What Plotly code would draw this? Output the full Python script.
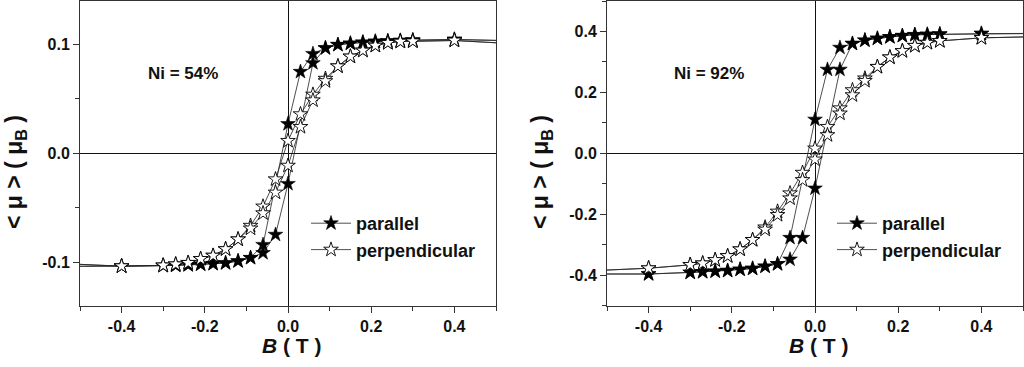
import plotly.graph_objects as go

# ---------------- data ----------------
# Left panel: Ni = 54 %
B_desc_par_54 = [0.6, 0.4, 0.3, 0.27, 0.24, 0.21, 0.18, 0.15, 0.12, 0.09, 0.06, 0.03, 0.0,
                 -0.06, -0.09, -0.12, -0.15, -0.18, -0.21, -0.24, -0.27, -0.3, -0.4, -0.6]
mu_desc_par_54 = [0.1030, 0.1046, 0.1040, 0.1036, 0.1032, 0.1028, 0.1020, 0.1010, 0.0998, 0.0968, 0.0915, 0.0750, 0.0270,
                  -0.0840, -0.0960, -0.0990, -0.1008, -0.1015, -0.1020, -0.1026, -0.1030, -0.1033, -0.1037, -0.1040]
B_asc_par_54 = [-0.6, -0.4, -0.3, -0.27, -0.24, -0.21, -0.18, -0.15, -0.12, -0.09, -0.06, -0.03, 0.0,
                0.06, 0.09, 0.12, 0.15, 0.18, 0.21, 0.24, 0.27, 0.3, 0.4, 0.6]
mu_asc_par_54 = [-0.1040, -0.1037, -0.1033, -0.1030, -0.1026, -0.1020, -0.1015, -0.1008, -0.0990, -0.0960, -0.0915, -0.0747, -0.0280,
                 0.0830, 0.0968, 0.0998, 0.1010, 0.1020, 0.1028, 0.1032, 0.1036, 0.1040, 0.1046, 0.1030]

B_desc_perp_54 = [0.6, 0.4, 0.3, 0.27, 0.24, 0.21, 0.18, 0.15, 0.12, 0.09, 0.06, 0.03, 0.0,
                  -0.03, -0.06, -0.09, -0.12, -0.15, -0.18, -0.21, -0.24, -0.27, -0.3, -0.4, -0.6]
mu_desc_perp_54 = [0.0995, 0.1037, 0.1030, 0.1027, 0.1015, 0.0990, 0.0945, 0.0890, 0.0800, 0.0686, 0.0540, 0.0360, 0.0115,
                   -0.0238, -0.0488, -0.0665, -0.0790, -0.0880, -0.0940, -0.0970, -0.1006, -0.1020, -0.1030, -0.1037, -0.1003]
B_asc_perp_54 = [-0.6, -0.4, -0.3, -0.27, -0.24, -0.21, -0.18, -0.15, -0.12, -0.09, -0.06, -0.03, 0.0,
                 0.03, 0.06, 0.09, 0.12, 0.15, 0.18, 0.21, 0.24, 0.27, 0.3, 0.4, 0.6]
mu_asc_perp_54 = [-0.1003, -0.1037, -0.1030, -0.1020, -0.1006, -0.0970, -0.0940, -0.0880, -0.0790, -0.0690, -0.0550, -0.0360, -0.0113,
                  0.0243, 0.0488, 0.0664, 0.0800, 0.0890, 0.0945, 0.0990, 0.1015, 0.1027, 0.1030, 0.1037, 0.0995]

# Right panel: Ni = 92 %
B_desc_par_92 = [0.6, 0.4, 0.3, 0.27, 0.24, 0.21, 0.18, 0.15, 0.12, 0.09, 0.06, 0.03, 0.0,
                 -0.06, -0.09, -0.12, -0.15, -0.18, -0.21, -0.24, -0.27, -0.3, -0.4, -0.6]
mu_desc_par_92 = [0.394, 0.393, 0.391, 0.390, 0.389, 0.386, 0.382, 0.377, 0.371, 0.360, 0.347, 0.275, 0.111,
                  -0.277, -0.363, -0.371, -0.378, -0.381, -0.385, -0.387, -0.389, -0.391, -0.396, -0.396]
B_asc_par_92 = [-0.6, -0.4, -0.3, -0.27, -0.24, -0.21, -0.18, -0.15, -0.12, -0.09, -0.06, -0.03, 0.0,
                0.06, 0.09, 0.12, 0.15, 0.18, 0.21, 0.24, 0.27, 0.3, 0.4, 0.6]
mu_asc_par_92 = [-0.396, -0.396, -0.391, -0.389, -0.387, -0.385, -0.381, -0.378, -0.371, -0.363, -0.348, -0.277, -0.115,
                 0.275, 0.360, 0.371, 0.377, 0.382, 0.386, 0.389, 0.390, 0.391, 0.393, 0.394]

B_desc_perp_92 = [0.6, 0.4, 0.3, 0.27, 0.24, 0.21, 0.18, 0.15, 0.12, 0.09, 0.06, 0.03, 0.0,
                  -0.03, -0.06, -0.09, -0.12, -0.15, -0.18, -0.21, -0.24, -0.27, -0.3, -0.4, -0.6]
mu_desc_perp_92 = [0.385, 0.379, 0.369, 0.363, 0.353, 0.336, 0.315, 0.284, 0.246, 0.2075, 0.148, 0.087, 0.016,
                   -0.0635, -0.131, -0.191, -0.243, -0.284, -0.315, -0.337, -0.350, -0.361, -0.366, -0.377, -0.389]
B_asc_perp_92 = [-0.6, -0.4, -0.3, -0.27, -0.24, -0.21, -0.18, -0.15, -0.12, -0.09, -0.06, -0.03, 0.0,
                 0.03, 0.06, 0.09, 0.12, 0.15, 0.18, 0.21, 0.24, 0.27, 0.3, 0.4, 0.6]
mu_asc_perp_92 = [-0.389, -0.377, -0.366, -0.361, -0.350, -0.337, -0.315, -0.284, -0.250, -0.202, -0.1475, -0.0875, -0.020,
                  0.060, 0.131, 0.191, 0.238, 0.284, 0.315, 0.336, 0.353, 0.363, 0.369, 0.379, 0.385]

series_names = ["parallel", "perpendicular"]
panel_labels = ["Ni = 54%", "Ni = 92%"]

x_tickvals = [-0.4, -0.2, 0.0, 0.2, 0.4]
x_ticktext = ["-0.4", "-0.2", "0.0", "0.2", "0.4"]
y1_tickvals = [-0.1, 0.0, 0.1]
y1_ticktext = ["-0.1", "0.0", "0.1"]
y2_tickvals = [-0.4, -0.2, 0.0, 0.2, 0.4]
y2_ticktext = ["-0.4", "-0.2", "0.0", "0.2", "0.4"]

# ---------------- figure ----------------
FONT = "Liberation Sans"
W, H = 1024, 367
fig = go.Figure()

line_style = dict(color="#222222", width=0.8)
filled = dict(symbol="star", size=11, color="black", line=dict(color="black", width=0.6))
hollow = dict(symbol="star", size=11, color="white", line=dict(color="black", width=0.9))

panels = [
    ("x", "y", "legend", B_desc_par_54 + B_asc_par_54, mu_desc_par_54 + mu_asc_par_54,
     B_desc_perp_54 + B_asc_perp_54, mu_desc_perp_54 + mu_asc_perp_54),
    ("x2", "y2", "legend2", B_desc_par_92 + B_asc_par_92, mu_desc_par_92 + mu_asc_par_92,
     B_desc_perp_92 + B_asc_perp_92, mu_desc_perp_92 + mu_asc_perp_92),
]
for xa, ya, lg, bp, mp, bq, mq in panels:
    fig.add_trace(go.Scatter(x=bp, y=mp, xaxis=xa, yaxis=ya, legend=lg, name=series_names[0],
                             mode="lines+markers", line=line_style, marker=filled))
    fig.add_trace(go.Scatter(x=bq, y=mq, xaxis=xa, yaxis=ya, legend=lg, name=series_names[1],
                             mode="lines+markers", line=line_style, marker=hollow))

tickfont = dict(family=FONT, size=16, weight="bold", color="#111111")
def bold(lst):
    return ["<b>%s</b>" % t for t in lst]

def common_axis():
    return dict(showline=True, linecolor="#333333", linewidth=1, mirror=True, automargin=False,
                ticks="outside", ticklen=6, tickwidth=1, tickcolor="#333333",
                showgrid=False, zeroline=True, zerolinecolor="#111111", zerolinewidth=1,
                tickfont=tickfont)

def xaxis(domain, anchor):
    d = common_axis()
    d.update(domain=domain, anchor=anchor, range=[-0.5, 0.5], tickvals=x_tickvals, ticktext=bold(x_ticktext),
             minor=dict(ticks="outside", ticklen=4, dtick=0.1, tick0=0, tickcolor="#333333"))
    return d

def yaxis(domain, anchor, rng, tv, tt, mdt):
    d = common_axis()
    d.update(domain=domain, anchor=anchor, range=rng, tickvals=tv, ticktext=bold(tt),
             minor=dict(ticks="outside", ticklen=4, dtick=mdt, tick0=0, tickcolor="#333333"))
    return d

ydom = [1 - 305.7 / H, 1 - 1.0 / H]
legend_font = dict(family=FONT, size=18, weight="bold", color="#111111")
fig.update_layout(
    width=W, height=H,
    margin=dict(l=0, r=0, t=0, b=0, autoexpand=False),
    paper_bgcolor="white", plot_bgcolor="white",
    font=dict(family=FONT, color="#111111"),
    xaxis=xaxis([80 / W, 496 / W], "y"),
    yaxis=yaxis(ydom, "x", [-0.14, 0.14], y1_tickvals, y1_ticktext, 0.05),
    xaxis2=xaxis([607 / W, 1023 / W], "y2"),
    yaxis2=yaxis(ydom, "x2", [-0.5, 0.5], y2_tickvals, y2_ticktext, 0.1),
    legend=dict(x=306 / W, y=1 - 205 / H, xanchor="left", yanchor="top", bgcolor="rgba(0,0,0,0)",
                font=legend_font, itemwidth=40),
    legend2=dict(x=832 / W, y=1 - 205 / H, xanchor="left", yanchor="top", bgcolor="rgba(0,0,0,0)",
                 font=legend_font, itemwidth=40),
    showlegend=True,
)

ann_font = dict(family=FONT, size=17, weight="bold", color="#111111")
title_font = dict(family=FONT, size=21, weight="bold", color="#111111")
ytitle_font = dict(family=FONT, size=23, weight="bold", color="#111111")
annotations = [
    dict(text=panel_labels[0], x=-0.252, y=0.0737, xref="x", yref="y", showarrow=False, font=ann_font),
    dict(text=panel_labels[1], x=-0.255, y=0.263, xref="x2", yref="y2", showarrow=False, font=ann_font),
]
for xc in (292, 819):
    annotations.append(dict(text="<b><i>B</i> ( T )</b>", x=xc / W, y=1 - 345 / H, xref="paper", yref="paper",
                            showarrow=False, font=title_font, xanchor="center", yanchor="middle"))
for xc in (15, 541):
    annotations.append(dict(text="<b>&lt; μ &gt; ( μ<sub>B</sub> )</b>", x=xc / W, y=1 - 172 / H, xref="paper",
                            yref="paper", showarrow=False, textangle=-90, font=ytitle_font,
                            xanchor="center", yanchor="middle"))
fig.update_layout(annotations=annotations)

fig.write_html("out.html", config={"displayModeBar": False},
               post_script="document.body.style.margin='0';document.body.style.padding='0';")
